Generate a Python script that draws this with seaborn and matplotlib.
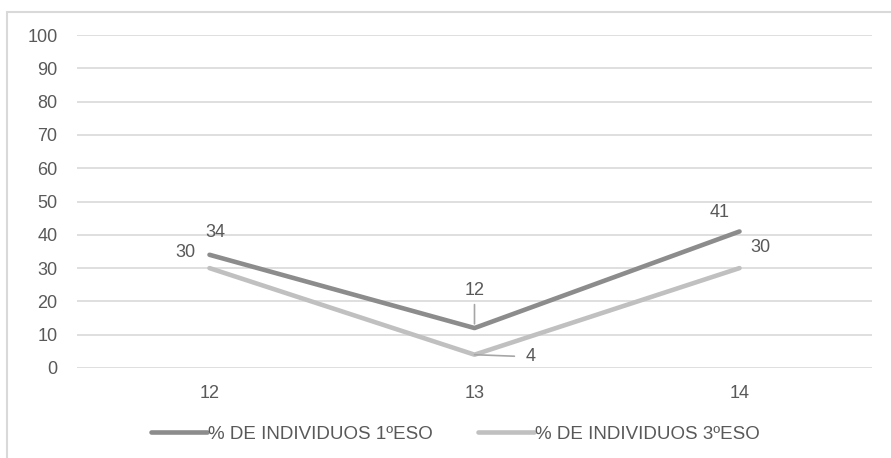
import matplotlib
matplotlib.use("Agg")
import matplotlib.pyplot as plt
from matplotlib.patches import Rectangle
import pandas as pd
import seaborn as sns

# Ages and share of students per course
ages = [12, 13, 14]
pct_1eso = [34, 12, 41]
pct_3eso = [30, 4, 30]
series_names = ["% DE INDIVIDUOS 1ºESO", "% DE INDIVIDUOS 3ºESO"]
y_ticks = [0, 10, 20, 30, 40, 50, 60, 70, 80, 90, 100]

df = pd.DataFrame({
    "edad": ages * 2,
    "pct": pct_1eso + pct_3eso,
    "serie": [series_names[0]] * len(ages) + [series_names[1]] * len(ages),
})

sns.set_theme(style="white")
plt.rcParams["font.family"] = ["Liberation Sans", "DejaVu Sans"]

TEXT = "#595959"
GRID = "#d9d9d9"
colors = {series_names[0]: "#8c8c8c", series_names[1]: "#c0c0c0"}

fig = plt.figure(figsize=(8.91, 4.58), dpi=100)
ax = fig.add_axes([77 / 891, 1 - 368 / 458, 795 / 891, 333 / 458])

sns.lineplot(data=df, x="edad", y="pct", hue="serie", palette=colors,
             linewidth=3.3, ax=ax, legend=True, solid_capstyle="round",
             zorder=3)

ax.set_xlim(11.5, 14.5)
ax.set_ylim(0, 100)
ax.set_yticks(y_ticks)
ax.set_xticks(ages)
ax.set_xticklabels([str(a) for a in ages])
ax.set_xlabel("")
ax.set_ylabel("")
ax.grid(axis="y", color=GRID, linewidth=1.2)
ax.grid(axis="x", visible=False)
ax.set_axisbelow(True)
for s in ax.spines.values():
    s.set_visible(False)
ax.tick_params(axis="y", length=0, pad=14, labelsize=13, labelcolor=TEXT)
ax.tick_params(axis="x", length=0, pad=12, labelsize=13, labelcolor=TEXT)

# Data labels: (x, value, offset in pixels, leader style)
label_specs = [
    (ages[0], pct_1eso[0], (5.5, 22), None),
    (ages[0], pct_3eso[0], (-24.5, 16), None),
    (ages[1], pct_1eso[1], (0, 38), (0.5, 0.0)),
    (ages[1], pct_3eso[1], (56.5, -2), (0.0, 0.5)),
    (ages[2], pct_1eso[2], (-19.5, 18.5), None),
    (ages[2], pct_3eso[2], (20.5, 21), None),
]
for x, v, (dx, dy), rel in label_specs:
    kw = {}
    if rel is not None:
        kw["arrowprops"] = dict(arrowstyle="-", color="#a6a6a6", lw=1.2,
                                shrinkA=2 if rel[0] == 0.5 else 6,
                                shrinkB=3 if rel[0] == 0.5 else 0,
                                relpos=rel)
    ax.annotate(str(v), xy=(x, v), xytext=(dx, dy), textcoords="offset pixels",
                ha="center", va="center", fontsize=13, color=TEXT,
                zorder=4, **kw)

handles, labels = ax.get_legend_handles_labels()
ax.legend_.remove()
leg = fig.legend(handles, labels, loc="center", ncol=2,
                 bbox_to_anchor=(455.5 / 891, 1 - 434 / 458),
                 frameon=False, fontsize=13.5, handlelength=3.0,
                 handletextpad=0.05, columnspacing=2.4, labelcolor=TEXT)
for line in leg.get_lines():
    line.set_linewidth(3.3)
    line.set_solid_capstyle("round")

# Chart frame
fig.patches.append(Rectangle((7 / 891, -0.1), 1.2, 1.1 - 12 / 458 + 0.0,
                             transform=fig.transFigure, fill=False,
                             edgecolor=GRID, linewidth=1.5))

fig.savefig("out.png", dpi=100)
